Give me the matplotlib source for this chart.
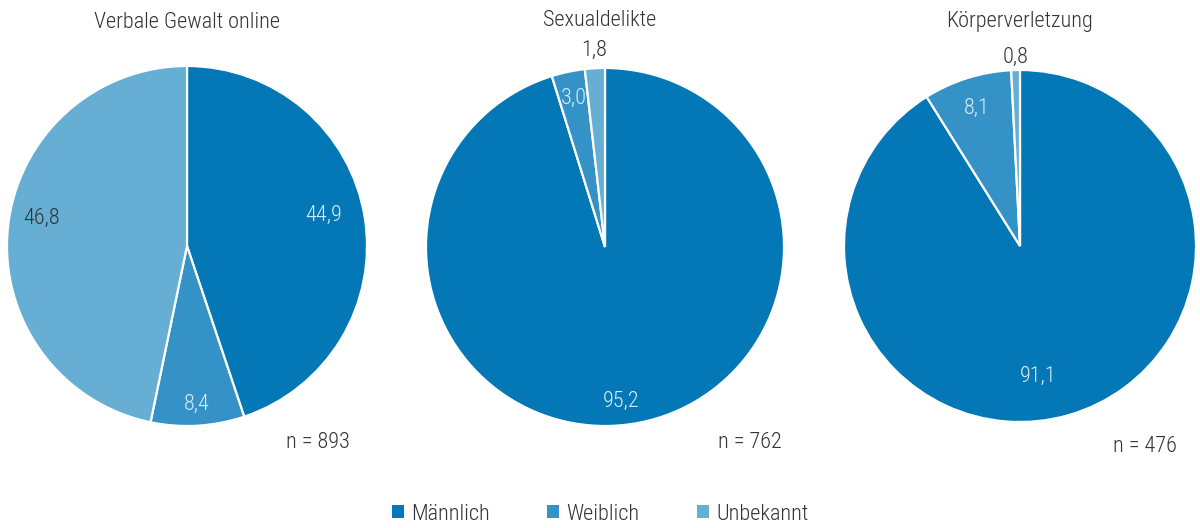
import matplotlib
matplotlib.use('Agg')
import matplotlib.pyplot as plt
import numpy as np
from matplotlib.patches import Patch

plt.rcParams['font.family'] = ['Roboto Condensed', 'Liberation Sans Narrow', 'DejaVu Sans']
plt.rcParams['font.weight'] = 'light'

# Anteile in Prozent nach Geschlecht der Tatverdächtigen
categories = ['Männlich', 'Weiblich', 'Unbekannt']
titles = ['Verbale Gewalt online', 'Sexualdelikte', 'Körperverletzung']
verbal = [44.9, 8.4, 46.8]
sexual = [95.2, 3.0, 1.8]
koerper = [91.1, 8.1, 0.8]
counts = [893, 762, 476]

colors = ['#0477B6', '#3592C6', '#67AED5']
text_dark = '#333333'
text_light = '#DDEBF5'
fs = 16

W, H = 1200, 528
fig = plt.figure(figsize=(W / 100, H / 100), dpi=100)

# pie centres and radii in pixels
centres = [(187, 246), (605, 247), (1020, 246)]
radii = [180, 179, 176]
# label placement: angle shift (deg) and radius fraction for each slice
label_shift = [[3.5, 0, -5], [-2.5, 0, 0], [-8, 0, 0]]
label_dist = [[0.78, 0.88, 0.82], [0.87, 0.85, 1.10], [0.75, 0.82, 1.07]]
n_pos = [(318, 442), (750, 442), (1145, 446)]
title_pos = [(187, 22), (600, 20), (1020, 22)]

for k, values in enumerate([verbal, sexual, koerper]):
    cx, cy = centres[k]
    r = radii[k]
    ax = fig.add_axes([(cx - r) / W, 1 - (cy + r) / H, 2 * r / W, 2 * r / H])
    wedges, _ = ax.pie(values, colors=colors, startangle=90, counterclock=False,
                       radius=1, wedgeprops=dict(edgecolor='white', linewidth=1.6))
    ax.set_xlim(-1, 1)
    ax.set_ylim(-1, 1)
    ax.set_aspect('equal')
    ax.axis('off')

    for i, w in enumerate(wedges):
        ang = np.deg2rad((w.theta1 + w.theta2) / 2 + label_shift[k][i])
        d = label_dist[k][i]
        col = text_dark if (i == 2 or d > 1) else text_light
        ax.text(d * np.cos(ang), d * np.sin(ang), f'{values[i]:.1f}'.replace('.', ','),
                ha='center', va='center', fontsize=fs, color=col, clip_on=False)

    fig.text(title_pos[k][0] / W, 1 - title_pos[k][1] / H, titles[k],
             ha='center', va='center', fontsize=fs, color=text_dark)
    fig.text(n_pos[k][0] / W, 1 - n_pos[k][1] / H, f'n = {counts[k]}',
             ha='center', va='center', fontsize=fs, color=text_dark)

handles = [Patch(facecolor=c, edgecolor='none', label=l) for c, l in zip(colors, categories)]
fig.legend(handles=handles, loc='center', bbox_to_anchor=(0.5, 1 - 514 / H), ncol=3,
           frameon=False, fontsize=fs, handlelength=0.55, handleheight=0.55,
           handletextpad=0.3, columnspacing=2.6, labelcolor=text_dark)

fig.savefig('out.png', dpi=100)
